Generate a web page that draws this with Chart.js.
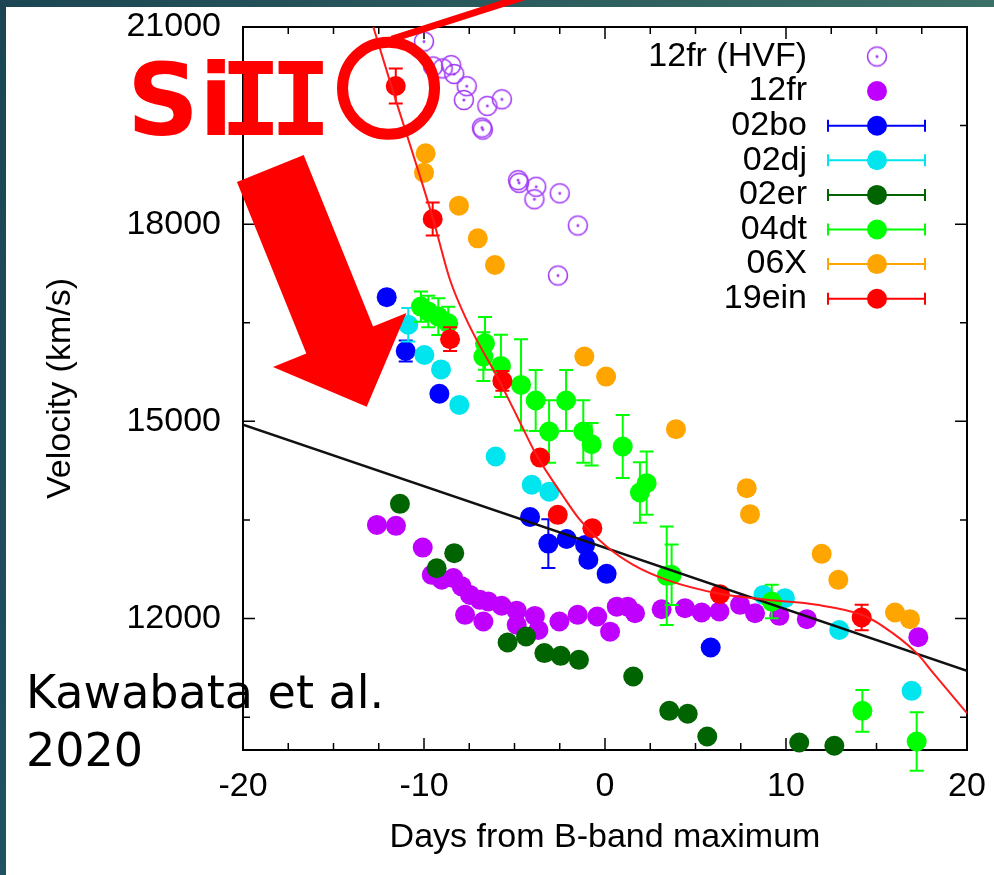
<!DOCTYPE html>
<html><head><meta charset="utf-8">
<script src="https://cdn.jsdelivr.net/npm/chart.js@4.4.1/dist/chart.umd.min.js"></script>
<style>html,body{margin:0;padding:0;background:#fff;overflow:hidden}#wrap{width:994px;height:875px;position:relative}canvas{display:block}</style>
</head><body><div id="wrap"><canvas id="c" width="994" height="875"></canvas></div>
<script>
// ---- tick labels ----
const X_TICKS = [-20,-17.5,-15,-12.5,-10,-7.5,-5,-2.5,0,2.5,5,7.5,10,12.5,15,17.5,20];
const X_TICK_LABELS = ['-20','','','','-10','','','','0','','','','10','','','','20'];
const Y_TICKS = [10500,12000,13500,15000,16500,18000,19500,21000];
const Y_TICK_LABELS = ['','12000','','15000','','18000','','21000'];

// ---- series: SN 2012fr high-velocity feature ----
const hvf12frDay = [-10.0,-9.5,-8.97,-8.5,-8.33,-7.64,-7.8,-6.5,-5.7,-6.8,-6.75,-4.8,-4.75,-3.8,-3.9,-2.5,-1.5,-2.6];
const hvf12frVel = [20780,20400,20370,20420,20285,20100,19890,19800,19900,19470,19440,18670,18630,18570,18380,18470,17980,17220];

// ---- SN 2012fr ----
const sn12frDay = [-12.6,-11.55,-10.07,-9.57,-9.02,-8.38,-7.92,-7.46,-6.91,-6.45,-5.71,-4.88,-3.87,-3.68,-4.88,-7.73,-6.72,-2.52,-1.51,-0.43,0.28,0.65,1.25,1.66,3.13,4.42,5.34,6.32,7.46,8.29,9.63,11.15,17.31];
const sn12frVel = [13425,13410,13080,12665,12590,12615,12490,12360,12285,12260,12195,12120,12040,11826,11905,12056,11955,11955,12056,12031,11800,12181,12181,12081,12142,12158,12092,12107,12209,12081,12041,11991,11717];

// ---- SN 2002bo ----
const sn02boDay = [-12.06,-11.01,-9.15,-4.14,-3.13,-2.12,-1.10,-0.92,0.09,5.84];
const sn02boVel = [16890,16070,15420,13545,13140,13210,13120,12895,12680,11560];
const sn02boErr = [0,160,0,0,370,0,0,0,0,0];

// ---- SN 2002dj ----
const sn02djDay = [-10.87,-9.98,-9.06,-8.05,-6.04,-4.05,-3.08,8.75,9.94,12.94,16.94];
const sn02djVel = [16470,16010,15790,15250,14465,14035,13930,12360,12310,11826,10900];
const sn02djErr = [255,0,0,0,0,0,0,0,0,0,0];

// ---- SN 2002er ----
const sn02erDay = [-11.33,-8.33,-9.30,-5.38,-4.36,-3.35,-2.45,-1.44,1.56,3.55,4.57,5.65,10.73,12.67];
const sn02erVel = [13745,12995,12766,11636,11727,11474,11433,11372,11118,10596,10551,10206,10114,10064];

// ---- SN 2004dt ----
const sn04dtDay = [-10.17,-9.76,-9.21,-8.66,-6.63,-6.72,-5.75,-4.64,-3.83,-3.09,-2.15,-1.20,-0.74,0.98,1.93,2.30,3.41,3.68,9.21,14.22,17.22];
const sn04dtVel = [16746,16670,16594,16493,16187,15985,15844,15555,15317,14845,15317,14845,14652,14617,13917,14060,12650,12665,12258,10596,10130];
const sn04dtErr = [230,240,280,250,400,370,475,695,465,475,465,475,325,480,460,480,750,460,255,317,445];

// ---- SN 2006X ----
const sn06XDay = [-9.91,-10.0,-8.07,-7.03,-6.08,-1.14,0.06,3.92,7.83,8.01,11.97,12.89,16.02,16.85];
const sn06XVel = [19078,18784,18282,17785,17379,15985,15681,14881,13984,13588,12984,12589,12092,11991];

// ---- SN 2019ein ----
const sn19einDay = [-11.56,-9.52,-8.56,-5.67,-3.59,-2.61,-0.70,6.35,14.18];
const sn19einVel = [20103,18079,16250,15615,14449,13578,13375,12371,12016];
const sn19einErr = [266,250,180,150,0,0,0,0,195];

// ---- SN 2019ein fit curve ----
const fitEinDay = [-12.8,-11.8,-9.5,-8.56,-7.64,-7.09,-5.98,-4.88,-3.77,-2.30,-1.38,0.09,1.56,3.41,6.35,8.93,11.70,14.18,15.38,17.22,18.14,20.0];
const fitEinVel = [21000,20100,18080,17150,16540,16240,15690,15090,14480,13856,13500,13095,12817,12589,12376,12285,12209,12057,11878,11474,11170,10560];

// ---- linear fit line ----
const linFitDay = [-20,20];
const linFitVel = [14950,11205];

const toPts = (d, v, e) => d.map((x, i) => ({x: x, y: v[i], err: e ? e[i] : 0}));

function ringImg(color) {
  const c = document.createElement('canvas');
  c.width = 24; c.height = 24;
  const g = c.getContext('2d');
  g.strokeStyle = color; g.lineWidth = 1.6;
  g.beginPath(); g.arc(12, 12, 9.5, 0, Math.PI * 2); g.stroke();
  g.fillStyle = color;
  g.beginPath(); g.arc(12, 12, 1.5, 0, Math.PI * 2); g.fill();
  return c;
}
const HVF_COLOR = '#a23cf5';
const HVF_IMG = ringImg(HVF_COLOR);

function pointDs(label, data, color, order, row, errLegend) {
  return {label, data, backgroundColor: color, borderColor: color, borderWidth: 0,
    pointRadius: 10, pointHoverRadius: 10, showLine: false, clip: false, order,
    legendRow: row, errLegend};
}

const datasets = [
  {label: 'fit19ein', data: toPts(fitEinDay, fitEinVel), showLine: true, borderColor: '#ff1a1a', borderWidth: 2,
   pointRadius: 0, cubicInterpolationMode: 'monotone', order: 0},
  {label: 'linfit', data: toPts(linFitDay, linFitVel), showLine: true, borderColor: '#111', borderWidth: 2.5,
   pointRadius: 0, order: 0},
  pointDs('19ein', toPts(sn19einDay, sn19einVel, sn19einErr), '#ff0000', 1, 7, true),
  pointDs('06X', toPts(sn06XDay, sn06XVel), '#ffa500', 2, 6, true),
  pointDs('04dt', toPts(sn04dtDay, sn04dtVel, sn04dtErr), '#00ff00', 3, 5, true),
  pointDs('02er', toPts(sn02erDay, sn02erVel), '#006400', 4, 4, true),
  pointDs('02dj', toPts(sn02djDay, sn02djVel, sn02djErr), '#00e5ee', 5, 3, true),
  pointDs('02bo', toPts(sn02boDay, sn02boVel, sn02boErr), '#0000ff', 6, 2, true),
  pointDs('12fr', toPts(sn12frDay, sn12frVel), '#bf00ff', 7, 1, false),
  Object.assign(pointDs('12fr (HVF)', toPts(hvf12frDay, hvf12frVel), HVF_COLOR, 8, 0, false), {pointStyle: HVF_IMG})
];

const bgPlugin = {
  id: 'bg',
  beforeDraw(chart) {
    const ctx = chart.ctx, W = chart.width, H = chart.height;
    ctx.save();
    ctx.fillStyle = '#ffffff'; ctx.fillRect(0, 0, W, H);
    const gt = ctx.createLinearGradient(0, 0, W, 0);
    gt.addColorStop(0, '#1b4553'); gt.addColorStop(1, '#3b7067');
    ctx.fillStyle = gt; ctx.fillRect(0, 0, W, 7);
    const gl = ctx.createLinearGradient(0, 0, 0, H);
    gl.addColorStop(0, '#1b4553'); gl.addColorStop(1, '#1f5262');
    ctx.fillStyle = gl; ctx.fillRect(0, 0, 6, H);
    ctx.restore();
  }
};

const framePlugin = {
  id: 'frame',
  beforeDatasetsDraw(chart) {
    const {ctx, chartArea: a, scales: {x, y}} = chart;
    ctx.save();
    ctx.strokeStyle = '#000'; ctx.lineWidth = 2;
    ctx.strokeRect(a.left, a.top, a.right - a.left, a.bottom - a.top);
    ctx.lineWidth = 1.5;
    ctx.beginPath();
    x.ticks.forEach(t => {
      const px = x.getPixelForValue(t.value);
      const len = X_TICK_LABELS[X_TICKS.indexOf(t.value)] ? 12 : 7;
      ctx.moveTo(px, a.bottom); ctx.lineTo(px, a.bottom - len);
      ctx.moveTo(px, a.top); ctx.lineTo(px, a.top + len);
    });
    y.ticks.forEach(t => {
      const py = y.getPixelForValue(t.value);
      const len = Y_TICK_LABELS[Y_TICKS.indexOf(t.value)] ? 12 : 7;
      ctx.moveTo(a.left, py); ctx.lineTo(a.left + len, py);
      ctx.moveTo(a.right, py); ctx.lineTo(a.right - len, py);
    });
    ctx.stroke();
    ctx.restore();
  }
};

const errPlugin = {
  id: 'errbars',
  beforeDatasetDraw(chart, args) {
    const ds = chart.data.datasets[args.index];
    if (ds.legendRow === undefined) return;
    const {ctx, scales: {x, y}} = chart;
    ctx.save();
    ctx.strokeStyle = ds.borderColor; ctx.lineWidth = 2;
    ctx.beginPath();
    ds.data.forEach(p => {
      if (!p.err) return;
      const px = x.getPixelForValue(p.x);
      const y1 = y.getPixelForValue(p.y + p.err), y2 = y.getPixelForValue(p.y - p.err);
      ctx.moveTo(px, y1); ctx.lineTo(px, y2);
      ctx.moveTo(px - 7, y1); ctx.lineTo(px + 7, y1);
      ctx.moveTo(px - 7, y2); ctx.lineTo(px + 7, y2);
    });
    ctx.stroke();
    ctx.restore();
  }
};

const legendPlugin = {
  id: 'gpkey',
  afterDatasetsDraw(chart) {
    const {ctx, chartArea: a} = chart;
    ctx.save();
    ctx.font = '34px "Liberation Sans"';
    ctx.textAlign = 'right'; ctx.textBaseline = 'middle';
    chart.data.datasets.forEach(ds => {
      if (ds.legendRow === undefined) return;
      const yy = a.top + 29.5 + ds.legendRow * 34.6;
      ctx.fillStyle = '#000';
      ctx.fillText(ds.label, a.right - 160, yy);
      const mx = a.right - 90;
      if (ds.errLegend) {
        ctx.strokeStyle = ds.borderColor; ctx.lineWidth = 2;
        ctx.beginPath();
        ctx.moveTo(a.right - 139, yy); ctx.lineTo(a.right - 42, yy);
        ctx.moveTo(a.right - 139, yy - 6); ctx.lineTo(a.right - 139, yy + 6);
        ctx.moveTo(a.right - 42, yy - 6); ctx.lineTo(a.right - 42, yy + 6);
        ctx.stroke();
      }
      if (ds.pointStyle && typeof ds.pointStyle === 'object') {
        ctx.drawImage(ds.pointStyle, mx - 12, yy - 12);
      } else {
        ctx.fillStyle = ds.backgroundColor;
        ctx.beginPath(); ctx.arc(mx, yy, 10, 0, Math.PI * 2); ctx.fill();
      }
    });
    ctx.restore();
  }
};

const annotPlugin = {
  id: 'annot',
  afterDraw(chart) {
    const {ctx, scales: {x, y}} = chart;
    ctx.save();
    // circle around the first 2019ein point
    const cx = x.getPixelForValue(-11.96), cy = y.getPixelForValue(20068);
    ctx.strokeStyle = '#ff0000'; ctx.lineWidth = 11;
    ctx.beginPath(); ctx.arc(cx, cy, 46, 0, Math.PI * 2); ctx.stroke();
    // leader line to the top edge
    const sx = cx + 3, sy = cy - 49, k = 128 / 41;
    ctx.lineWidth = 7; ctx.lineCap = 'butt';
    ctx.beginPath(); ctx.moveTo(sx, sy); ctx.lineTo(sx + (sy + 3) * k, -3); ctx.stroke();
    // SiII label
    ctx.fillStyle = '#ff0000';
    ctx.textAlign = 'left'; ctx.textBaseline = 'alphabetic';
    ctx.font = 'bold 100px "DejaVu Sans"';
    ctx.fillText('Si', 127, 135);
    ctx.font = 'bold 102px "DejaVu Sans Mono"';
    ctx.fillText('I', 220, 135);
    ctx.fillText('I', 270, 135);
    // big arrow
    const T = {x: 366.7, y: 406.7};
    const ang = Math.atan2(0.927, 0.375);
    const L = 257, HL = 72, HW = 72, SW = 36;
    ctx.translate(T.x, T.y); ctx.rotate(ang);
    ctx.beginPath();
    ctx.moveTo(0, 0); ctx.lineTo(-HL, HW); ctx.lineTo(-HL, SW); ctx.lineTo(-L, SW);
    ctx.lineTo(-L, -SW); ctx.lineTo(-HL, -SW); ctx.lineTo(-HL, -HW); ctx.closePath();
    ctx.fill();
    ctx.setTransform(1, 0, 0, 1, 0, 0);
    // citation
    ctx.fillStyle = '#000';
    ctx.font = '46px "DejaVu Sans"';
    ctx.fillText('Kawabata et al.', 26, 708);
    ctx.fillText('2020', 26, 766);
    ctx.restore();
  }
};

Chart.defaults.font.family = '"Liberation Sans", Arial, sans-serif';
Chart.defaults.color = '#000';

new Chart(document.getElementById('c'), {
  type: 'scatter',
  data: {datasets},
  options: {
    responsive: false, animation: false, events: [], devicePixelRatio: 1,
    layout: {padding: {left: 0, right: 27, top: 27, bottom: 0}},
    plugins: {legend: {display: false}, tooltip: {enabled: false}},
    scales: {
      x: {
        type: 'linear', min: -20, max: 20,
        afterBuildTicks: s => { s.ticks = X_TICKS.map(v => ({value: v})); },
        afterFit: s => { s.height = 125; s.paddingLeft = 0; s.paddingRight = 0; },
        grid: {display: false, drawTicks: false}, border: {display: false},
        ticks: {autoSkip: false, maxRotation: 0, padding: 16, color: '#000', font: {size: 34},
          callback: v => X_TICK_LABELS[X_TICKS.indexOf(v)] || ''},
        title: {display: true, text: 'Days from B-band maximum', color: '#000', font: {size: 34},
          padding: {top: 0, bottom: 17}}
      },
      y: {
        type: 'linear', min: 10000, max: 21000,
        afterBuildTicks: s => { s.ticks = Y_TICKS.map(v => ({value: v})); },
        afterFit: s => { s.width = 243; s.paddingTop = 0; s.paddingBottom = 0; },
        grid: {display: false, drawTicks: false}, border: {display: false},
        ticks: {autoSkip: false, padding: 22, color: '#000', font: {size: 34},
          callback: v => Y_TICK_LABELS[Y_TICKS.indexOf(v)] || ''},
        title: {display: true, text: 'Velocity (km/s)', color: '#000', font: {size: 34},
          padding: {top: 40, bottom: 0}}
      }
    }
  },
  plugins: [bgPlugin, framePlugin, errPlugin, legendPlugin, annotPlugin]
});
</script></body></html>
